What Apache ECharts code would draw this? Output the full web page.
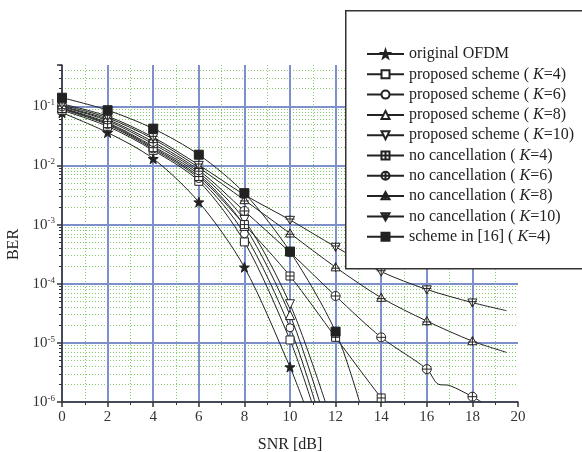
<!DOCTYPE html>
<html>
<head>
<meta charset="utf-8">
<script src="https://cdn.jsdelivr.net/npm/echarts@6/dist/echarts.min.js"></script>
<style>
  html, body { margin: 0; padding: 0; background: #fff; }
  #chart { width: 582px; height: 452px; }
</style>
</head>
<body>
<div id="chart"></div>
<script>
// series names (legend order)
const seriesNames = [
  "original OFDM",
  "proposed scheme ( K=4)",
  "proposed scheme ( K=6)",
  "proposed scheme ( K=8)",
  "proposed scheme ( K=10)",
  "no cancellation ( K=4)",
  "no cancellation ( K=6)",
  "no cancellation ( K=8)",
  "no cancellation ( K=10)",
  "scheme in [16] ( K=4)"
];

// [SNR dB, BER] (marked points)
const berOriginal = [[0, 0.078], [2, 0.036], [4, 0.013], [6, 0.0024], [8, 1.9e-4], [10, 3.9e-6]];
const berPropK4 = [[0, 0.086], [2, 0.046], [4, 0.018], [6, 0.0054], [8, 5.1e-4], [10, 1.12e-5]];
const berPropK6 = [[0, 0.09], [2, 0.049], [4, 0.019], [6, 0.006], [8, 7.0e-4], [10, 1.8e-5]];
const berPropK8 = [[0, 0.094], [2, 0.053], [4, 0.021], [6, 0.007], [8, 9.5e-4], [10, 2.95e-5]];
const berPropK10 = [[0, 0.098], [2, 0.057], [4, 0.023], [6, 0.0076], [8, 1.2e-3], [10, 4.5e-5]];
const berNoCancK4 = [[0, 0.092], [2, 0.051], [4, 0.02], [6, 0.0065], [8, 1.0e-3], [10, 1.35e-4], [12, 1.24e-5], [14, 1.17e-6]];
const berNoCancK6 = [[0, 0.1], [2, 0.06], [4, 0.025], [6, 0.0083], [8, 1.7e-3], [10, 3.4e-4], [12, 6.2e-5], [14, 1.24e-5], [16, 3.6e-6], [18, 1.23e-6]];
const berNoCancK8 = [[0, 0.105], [2, 0.064], [4, 0.028], [6, 0.0092], [8, 2.6e-3], [10, 7.1e-4], [12, 1.9e-4], [14, 5.8e-5], [16, 2.34e-5], [18, 1.07e-5]];
const berNoCancK10 = [[0, 0.11], [2, 0.068], [4, 0.03], [6, 0.0102], [8, 3.2e-3], [10, 1.2e-3], [12, 4.2e-4], [14, 1.6e-4], [16, 8e-5], [18, 4.8e-5]];
const berRef16 = [[0, 0.14], [2, 0.086], [4, 0.042], [6, 0.0152], [8, 3.4e-3], [10, 3.5e-4], [12, 1.55e-5]];

// curve points without a marker (where the line runs on / leaves the plot)
const tailOriginal = [[10.6, 1e-6]];
const tailPropK4 = [[10.95, 1e-6]];
const tailPropK6 = [[11.1, 1e-6]];
const tailPropK8 = [[11.3, 1e-6]];
const tailPropK10 = [[11.55, 1e-6]];
const tailNoCancK4 = [[14.2, 1e-6]];
const tailNoCancK6 = [[18.4, 1e-6]];
const tailNoCancK8 = [[19.5, 6.9e-6]];
const tailNoCancK10 = [[19.5, 3.5e-5]];
const tailRef16 = [[13.05, 1e-6]];

// extra unmarked bend on the K=6 no-cancellation curve
const bendNoCancK6 = [[16.5, 2.0e-6], [17, 1.9e-6]];

const yMajorTicks = [1e-6, 1e-5, 1e-4, 1e-3, 1e-2, 1e-1];
const yMinorTicks = [];
yMajorTicks.forEach(function (d) {
  for (let m = 2; m <= 9; m++) {
    if (m * d <= 0.5) yMinorTicks.push(+(m * d).toPrecision(3));
  }
});

const ink = "#222";
const symStar = "path://M10,0 L12.35,6.76 L19.51,6.91 L13.8,11.24 L15.88,18.09 L10,14 L4.12,18.09 L6.2,11.24 L0.49,6.91 L7.65,6.76 Z";
const symBoxPlus = "path://M0,0 L10,0 L10,10 L0,10 Z M5,0 L5,10 M0,5 L10,5";
const symCirclePlus = "path://M0,5 A5,5 0 1 1 10,5 A5,5 0 1 1 0,5 Z M5,0 L5,10 M0,5 L10,5";
const symTriPlus = "path://M5,0 L10,9 L0,9 Z M5,0 L5,10 M0,6 L10,6";
const symTriDownPlus = "path://M0,1 L10,1 L5,10 Z M5,0 L5,10 M0,4 L10,4";
const symTriDown = "path://M0,0 L10,0 L5,9 Z";

const markers = [
  { symbol: symStar, size: 10, fill: ink },
  { symbol: "rect", size: 8, fill: "#fff" },
  { symbol: "circle", size: 8, fill: "#fff" },
  { symbol: "triangle", size: 9, fill: "#fff" },
  { symbol: symTriDown, size: 9, fill: "#fff" },
  { symbol: symBoxPlus, size: 8, fill: "#fff" },
  { symbol: symCirclePlus, size: 9, fill: "#fff" },
  { symbol: symTriPlus, size: 9, fill: "#fff" },
  { symbol: symTriDownPlus, size: 9, fill: "#fff" },
  { symbol: "rect", size: 9, fill: ink }
];

const marked = [berOriginal, berPropK4, berPropK6, berPropK8, berPropK10,
  berNoCancK4, berNoCancK6, berNoCancK8, berNoCancK10, berRef16];
const tails = [tailOriginal, tailPropK4, tailPropK6, tailPropK8, tailPropK10,
  tailNoCancK4, tailNoCancK6, tailNoCancK8, tailNoCancK10, tailRef16];

const buildData = (i) => {
  let pts = marked[i].map((p) => ({ value: p }));
  let extra = tails[i];
  if (i === 6) extra = bendNoCancK6.concat(extra);
  extra.forEach((p) => pts.push({ value: p, symbol: "none" }));
  pts.sort((a, b) => a.value[0] - b.value[0]);
  return pts;
};

const series = seriesNames.map((name, i) => ({
  name: name,
  type: "line",
  data: buildData(i),
  smooth: 0.3,
  symbol: markers[i].symbol,
  symbolSize: markers[i].size,
  showAllSymbol: true,
  lineStyle: { color: ink, width: 1 },
  itemStyle: { color: markers[i].fill, borderColor: ink, borderWidth: 1 },
  emphasis: { disabled: true },
  z: 2
}));

const fmtPow = (v) => {
  const e = Math.round(Math.log10(v));
  if (Math.abs(v - Math.pow(10, e)) > Math.pow(10, e) * 1e-6) return "";
  return "10{sup|" + e + "}";
};

const serif = "Liberation Serif";
const blue = "#7d90cc";
const green = "#86cc6e";

const chart = echarts.init(document.getElementById("chart"));
chart.setOption({
  animation: false,
  backgroundColor: "#fff",
  textStyle: { fontFamily: serif },
  grid: { left: 62, right: 64, top: 65, bottom: 50, outerBoundsMode: "none", containLabel: false },
  xAxis: {
    type: "value",
    min: 0,
    max: 20,
    interval: 2,
    name: "SNR [dB]",
    nameLocation: "middle",
    nameGap: 35,
    nameTextStyle: { fontFamily: serif, fontSize: 16, color: ink },
    axisLine: { lineStyle: { color: "#333", width: 1.5 } },
    axisTick: { show: true, length: 5, inside: false, lineStyle: { color: "#333", width: 1.5 } },
    minorTick: { show: true, splitNumber: 2, length: 3, lineStyle: { color: "#333", width: 1 } },
    axisLabel: { fontFamily: serif, fontSize: 15, color: "#333", margin: 8 },
    splitLine: { show: true, showMaxLine: false, lineStyle: { color: blue, width: 2 } },
    minorSplitLine: { show: true, lineStyle: { color: green, width: 1, type: [1, 2] } }
  },
  yAxis: [
    {
      type: "log",
      logBase: 10,
      min: 1e-6,
      max: 0.5,
      splitNumber: 6,
      name: "BER",
      nameLocation: "middle",
      nameGap: 40,
      nameTextStyle: { fontFamily: serif, fontSize: 16, color: ink, padding: [0, 22, 0, 0] },
      axisLine: { lineStyle: { color: "#333", width: 1.5 } },
      axisTick: { show: true, length: 5, lineStyle: { color: "#333", width: 1.5 } },
      axisLabel: {
        formatter: fmtPow,
        margin: 7,
        rich: {
          sup: { fontFamily: serif, fontSize: 9, color: "#333", verticalAlign: "top", padding: [0, 0, 7, 0] }
        },
        fontFamily: serif,
        fontSize: 15,
        color: "#333"
      },
      splitLine: { show: true, showMaxLine: false, lineStyle: { color: blue, width: 2 } }
    },
    {
      type: "log",
      logBase: 10,
      min: 1e-6,
      max: 0.5,
      position: "left",
      axisLine: { show: false },
      axisLabel: { show: false },
      axisTick: { show: true, length: 3, customValues: yMinorTicks, lineStyle: { color: "#333", width: 1 } },
      splitLine: { show: true, showMaxLine: false, lineStyle: { color: green, width: 1, type: [1, 2] } }
    }
  ],
  legend: {
    orient: "vertical",
    left: 361,
    top: 41,
    itemWidth: 37,
    itemHeight: 10,
    itemGap: 4.3,
    selectedMode: false,
    data: seriesNames,
    formatter: (n) => n.replace("K=", "{i|K}="),
    textStyle: {
      fontFamily: serif,
      fontSize: 16,
      color: ink,
      lineHeight: 16,
      rich: { i: { fontFamily: serif, fontSize: 16, fontStyle: "italic", color: ink, lineHeight: 16 } }
    },
    z: 5
  },
  graphic: [
    {
      type: "rect",
      left: 345,
      top: 10,
      z: 4,
      shape: { width: 260, height: 258 },
      style: { fill: "#fff", stroke: "#333", lineWidth: 1.5 }
    }
  ],
  series: series
});
</script>
</body>
</html>
